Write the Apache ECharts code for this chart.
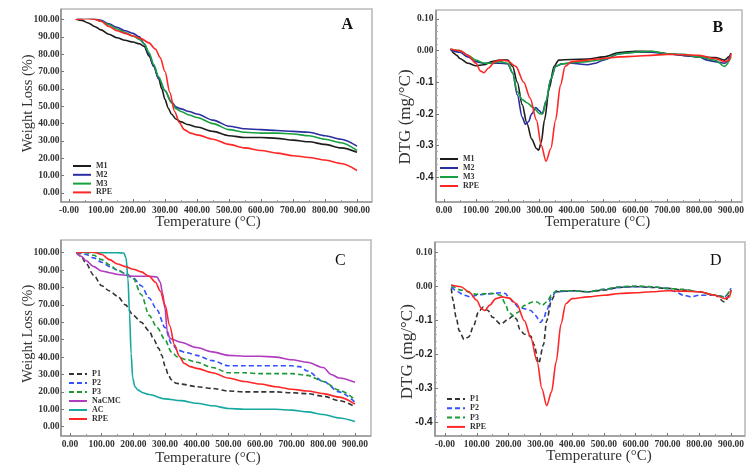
<!DOCTYPE html>
<html><head><meta charset="utf-8">
<script src="https://cdn.jsdelivr.net/npm/echarts/dist/echarts.min.js"></script>
<style>html,body{margin:0;padding:0;background:#fff}#c{width:753px;height:473px}</style>
</head><body><div id="c"></div>
<script>
// ---------- Panel A: TGA (weight loss %) ----------
var tA_M1 = [25,40,60,80,100,125,150,175,200,220,235,250,265,280,290,300,310,320,335,350,370,400,450,500,550,600,650,700,750,800,850,900];
var wA_M1 = [100,99.5,98,96,94,91.5,89.5,88,87,86,84.5,79,73,66,60,54,49,45.5,42.5,41,39.5,38,35.5,33,32,32,31.5,30.5,29.5,28,26,23.5];
var tA_M2 = [25,50,75,100,125,150,175,200,220,235,250,265,280,300,320,335,350,375,400,450,500,550,600,650,700,750,800,850,900];
var wA_M2 = [100.5,101,100.5,99.5,97.5,95.5,93.5,92,90,86,80,73,66,59,52.5,49.5,48.5,47,45.5,42,38.5,37,36.5,36,35.5,35,33,31,27];
var tA_M3 = [25,50,75,100,125,150,175,200,220,235,250,265,280,300,320,335,350,375,400,450,500,550,600,650,700,750,800,850,900];
var wA_M3 = [100.5,101,100.5,99,97,94.5,92.5,90.5,88.5,86,81,74,67,59,52,48.5,47,45,43.5,40,36.5,35,34.5,34.5,34,33,31,29,24.5];
var tRPE = [20,50,75,100,125,150,175,200,225,250,270,285,300,315,330,345,360,380,400,450,500,550,600,650,700,750,800,850,900];
var wRPE = [100,100.5,100.3,99,96,93.5,92,90.5,89,86.5,83,78,70,58,47,40.5,36.5,34.5,33.5,31,28,26,24.5,23,21.5,20.5,19,17,13];

// ---------- Panel B: DTG (mg/°C) ----------
var tB_M1 = [25,30,40,50,75,100,125,150,175,200,215,230,245,260,275,290,297,305,315,330,345,360,400,450,500,550,600,650,700,750,800,850,880,893,900];
var dB_M1 = [0,-0.008,-0.015,-0.025,-0.04,-0.048,-0.045,-0.035,-0.03,-0.03,-0.05,-0.1,-0.17,-0.23,-0.28,-0.31,-0.315,-0.29,-0.22,-0.12,-0.05,-0.03,-0.028,-0.027,-0.02,-0.006,-0.002,-0.003,-0.01,-0.015,-0.02,-0.022,-0.03,-0.02,-0.008];
var tB_M2 = [20,50,75,100,125,150,175,200,215,230,245,255,265,275,288,298,308,320,335,350,370,400,450,475,500,550,600,650,700,750,800,825,850,880,900];
var dB_M2 = [0.003,-0.005,-0.02,-0.035,-0.04,-0.04,-0.04,-0.042,-0.07,-0.14,-0.21,-0.233,-0.225,-0.2,-0.18,-0.19,-0.2,-0.16,-0.09,-0.05,-0.042,-0.04,-0.045,-0.04,-0.03,-0.01,-0.005,-0.005,-0.01,-0.015,-0.02,-0.03,-0.035,-0.04,-0.015];
var tB_M3 = [20,50,75,100,125,150,175,200,215,230,245,260,280,300,310,320,335,350,370,400,450,500,550,600,650,700,750,800,850,880,900];
var dB_M3 = [0.005,0,-0.015,-0.03,-0.04,-0.04,-0.035,-0.04,-0.07,-0.13,-0.155,-0.165,-0.18,-0.2,-0.2,-0.16,-0.09,-0.05,-0.042,-0.038,-0.035,-0.028,-0.01,-0.005,-0.002,-0.01,-0.012,-0.02,-0.03,-0.05,-0.02];
var tRPEd = [20,50,75,100,115,125,140,160,180,200,225,250,270,290,305,320,335,350,365,380,400,450,500,550,600,650,700,750,800,850,880,895,900];
var dRPEd = [0.005,0,-0.015,-0.04,-0.065,-0.07,-0.055,-0.035,-0.03,-0.033,-0.05,-0.1,-0.15,-0.22,-0.3,-0.35,-0.31,-0.22,-0.11,-0.05,-0.035,-0.03,-0.025,-0.02,-0.018,-0.015,-0.012,-0.013,-0.015,-0.025,-0.035,-0.03,-0.01];

// ---------- Panel C: TGA ----------
var tC_P1 = [20,35,50,75,100,125,150,175,200,225,250,265,280,290,300,310,320,335,350,400,450,500,550,600,650,700,750,800,850,900];
var wC_P1 = [100,98,94,87,81,78,75,70,64,60,55,50,45,41,35,30,27,25,24.5,23,22,20.5,20,20,20,19.5,19,17.5,15,11.5];
var tC_P2 = [20,50,75,100,125,150,175,200,225,250,275,300,320,340,370,400,450,500,550,600,650,700,725,750,800,850,900];
var wC_P2 = [100,99,97,94.5,92,90,88,85.5,81,74,67,57,48,44,42.5,41,38,35,35,35,35,35,34.5,32,26,20,14];
var tC_P3 = [20,50,75,100,125,150,175,200,225,250,275,300,320,340,370,400,450,500,550,600,650,700,750,800,850,900];
var wC_P3 = [100,100,98.5,96,93,90,88,85,76,64,57,50,43,40,38.5,37,34,31,31,30.5,30.5,30.5,29.5,26,21,15.5];
var tC_Na = [20,35,50,75,100,125,150,200,250,275,285,292,300,307,315,325,350,400,450,500,550,600,650,700,750,800,825,850,900];
var wC_Na = [100,98,95.5,92,89.5,88.5,87.5,86.5,86.5,86,83,77,68,55,51,50,48.5,45.5,43,41,40.5,40.5,40,38.5,37,34,30,28,25.5];
var tC_AC = [20,50,100,150,170,177,183,188,193,198,205,215,230,250,300,350,400,450,500,550,600,650,700,750,800,850,900];
var wC_AC = [100,100.3,100,100,99.8,97,85,65,42,28,23,21,19.5,18.5,16,15,13.5,12,10.5,10,10,10,9.5,8.5,7,5,3];

// ---------- Panel D: DTG ----------
var tD_P1 = [20,25,35,45,60,75,90,105,120,135,150,175,200,215,225,235,250,270,280,295,310,320,335,350,400,450,500,550,600,650,700,750,800,850,880,895,900];
var dD_P1 = [-0.005,-0.04,-0.09,-0.13,-0.155,-0.148,-0.115,-0.075,-0.06,-0.07,-0.09,-0.11,-0.095,-0.085,-0.095,-0.125,-0.14,-0.145,-0.17,-0.225,-0.17,-0.1,-0.04,-0.015,-0.012,-0.015,-0.01,-0.002,0,-0.002,-0.005,-0.01,-0.015,-0.025,-0.045,-0.025,-0.01];
var tD_P2 = [20,40,60,80,100,125,150,175,190,200,215,230,250,270,285,300,310,320,335,350,400,450,500,550,600,650,700,725,750,775,800,850,880,900];
var dD_P2 = [0,-0.015,-0.025,-0.03,-0.025,-0.022,-0.02,-0.018,-0.02,-0.03,-0.045,-0.06,-0.065,-0.07,-0.085,-0.105,-0.095,-0.07,-0.03,-0.015,-0.012,-0.015,-0.008,-0.002,0,0,-0.005,-0.015,-0.025,-0.03,-0.025,-0.025,-0.03,-0.005];
var tD_P3 = [20,50,100,150,175,190,200,215,230,250,275,290,305,320,335,350,400,450,500,550,600,650,700,750,800,850,880,900];
var dD_P3 = [0.005,-0.01,-0.022,-0.02,-0.025,-0.05,-0.075,-0.085,-0.075,-0.055,-0.045,-0.045,-0.055,-0.045,-0.025,-0.012,-0.012,-0.015,-0.008,0,0.002,0,-0.005,-0.008,-0.015,-0.025,-0.03,-0.005];

// ---------- labels ----------
var xTitle = 'Temperature (°C)';
var yTitleTGA = 'Weight Loss (%)';
var yTitleDTG = 'DTG (mg/°C)';
var panelLetters = ['A','B','C','D'];
var legendA = ['M1','M2','M3','RPE'];
var legendC = ['P1','P2','P3','NaCMC','AC','RPE'];
var legendD = ['P1','P2','P3','RPE'];

var SERIF = '"Liberation Serif","Times New Roman",serif';
function pairs(t, v) { return t.map(function (x, i) { return [x, v[i]]; }); }

var grids = [
  {left: 69, top: 19.5, width: 288, height: 173.5},
  {left: 444, top: 19, width: 287, height: 158},
  {left: 70, top: 252.7, width: 285, height: 174},
  {left: 445, top: 252.7, width: 286, height: 170}
];
var boxes = [[61, 9, 311, 193], [436, 10, 306, 192], [61, 240, 310, 196], [435, 242, 310, 194]];

function xAx(gi, offset, zeroLabel, gap, pad) {
  return {
    type: 'value', gridIndex: gi, min: 0, max: 900, interval: 100, offset: offset,
    axisLine: {show: false, onZero: false},
    axisTick: {show: true, inside: true, length: 3, lineStyle: {color: '#777'}},
    minorTick: {show: true, splitNumber: 2, length: 2, lineStyle: {color: '#999'}},
    splitLine: {show: false},
    axisLabel: {margin: 4, fontFamily: SERIF, fontWeight: 'bold', fontSize: 9.5, color: '#333',
      showMinLabel: true, showMaxLabel: true,
      formatter: function (v) { return v === 0 ? zeroLabel : v.toFixed(2); }},
    name: xTitle, nameLocation: 'middle', nameGap: gap, nameMoveOverlap: false,
    nameTextStyle: {fontFamily: SERIF, fontSize: 15, color: '#333', padding: pad}
  };
}
function yTGA(gi, offset, gap, pad) {
  return {
    type: 'value', gridIndex: gi, min: 0, max: 100, interval: 10, offset: offset,
    axisLine: {show: false, onZero: false},
    axisTick: {show: true, inside: true, length: 3, lineStyle: {color: '#777'}},
    splitLine: {show: false},
    axisLabel: {margin: 1.5, fontFamily: SERIF, fontWeight: 'bold', fontSize: 9.5, color: '#333',
      formatter: function (v) { return v.toFixed(2); }},
    name: yTitleTGA, nameLocation: 'middle', nameGap: gap, nameMoveOverlap: false,
    nameTextStyle: {fontFamily: SERIF, fontSize: 14.5, color: '#333', padding: pad}
  };
}
function yDTG(gi, offset, gap, pad) {
  return {
    type: 'value', gridIndex: gi, min: -0.4, max: 0.1, interval: 0.1, offset: offset,
    axisLine: {show: false, onZero: false},
    axisTick: {show: true, inside: true, length: 3, lineStyle: {color: '#777'}},
    minorTick: {show: true, splitNumber: 5, length: 2, lineStyle: {color: '#aaa'}},
    splitLine: {show: false},
    axisLabel: {margin: 2.5, fontFamily: SERIF, fontWeight: 'bold', fontSize: 9.5, color: '#333',
      rich: {s: {fontFamily: '"Liberation Sans",Arial,sans-serif', fontWeight: 'bold', fontSize: 10, color: '#222'}},
      formatter: function (v) {
        var r = Math.round(v * 10) / 10;
        if (r >= 0) return r.toFixed(2);
        return '{s|' + r.toFixed(1) + '}';
      }},
    name: yTitleDTG, nameLocation: 'middle', nameGap: gap, nameMoveOverlap: false,
    nameTextStyle: {fontFamily: SERIF, fontSize: 17, color: '#333', padding: pad}
  };
}

function ser(name, gi, t, v, color, dashed) {
  return {
    name: name, type: 'line', xAxisIndex: gi, yAxisIndex: gi,
    data: pairs(t, v), symbol: 'none', showSymbol: false,
    smooth: 0.3, smoothMonotone: 'x',
    lineStyle: {width: 1.6, color: color, type: dashed ? [5, 3] : 'solid'},
    itemStyle: {color: color}
  };
}

var C = {M1: '#1c1c1c', M2: '#2b2ea0', M3: '#18a040', RPE: '#ff2626',
         P1: '#333333', P2: '#3352ff', P3: '#1a9a35', Na: '#b03cc0', AC: '#15a8a0'};

function legend(names, left, top, gap) {
  return {
    data: names, orient: 'vertical', left: left, top: top, padding: 0,
    itemWidth: 18, itemHeight: 8, itemGap: gap,
    itemStyle: {opacity: 0, borderWidth: 0},
    textStyle: {fontFamily: SERIF, fontWeight: 'bold', fontSize: 8, color: '#333', lineHeight: 8}
  };
}

var graphic = [];
boxes.forEach(function (b) {
  graphic.push({type: 'rect', shape: {x: b[0], y: b[1], width: b[2], height: b[3]},
    style: {fill: 'none', stroke: '#bbbbbb', lineWidth: 1.6}, silent: true});
  graphic.push({type: 'polyline', shape: {points: [[b[0], b[1]], [b[0], b[1] + b[3]], [b[0] + b[2], b[1] + b[3]]]},
    style: {fill: 'none', stroke: '#808080', lineWidth: 1.2}, silent: true});
});

var titleStyle = function (bold) { return {fontFamily: SERIF, fontSize: 16, fontWeight: bold ? 'bold' : 'normal', color: '#111'}; };

var option = {
  animation: false,
  backgroundColor: '#fff',
  title: [
    {text: panelLetters[0], left: 341.5, top: 17, padding: 0, textStyle: titleStyle(true)},
    {text: panelLetters[1], left: 712.5, top: 20, padding: 0, textStyle: titleStyle(true)},
    {text: panelLetters[2], left: 335, top: 253, padding: 0, textStyle: titleStyle(false)},
    {text: panelLetters[3], left: 710, top: 253, padding: 0, textStyle: titleStyle(false)}
  ],
  grid: grids,
  xAxis: [
    xAx(0, 9, '-0.00', 12.5, [0, 10, 0, 0]),
    xAx(1, 25, '0.00', 12.5, [0, 0, 0, 20]),
    xAx(2, 9.3, '0.00', 14.5, [0, 9, 0, 0]),
    xAx(3, 13.3, '-0.00', 12.5, [0, 0, 0, 22])
  ],
  yAxis: [
    yTGA(0, 8, 25, [0, 0, 0, 6]),
    yDTG(1, 8, 22, [0, 38, 0, 0]),
    yTGA(2, 9, 25, [0, 0, 0, 12]),
    yDTG(3, 10, 19, [0, 28, 0, 0])
  ],
  legend: [
    legend(legendA, 72, 162, 0.8),
    legend(legendA, 439, 155, 1),
    legend(legendC, 68, 370, 1),
    legend(legendD, 446, 395, 1.3)
  ],
  graphic: graphic,
  series: [
    ser('M1', 0, tA_M1, wA_M1, C.M1),
    ser('M2', 0, tA_M2, wA_M2, C.M2),
    ser('M3', 0, tA_M3, wA_M3, C.M3),
    ser('RPE', 0, tRPE, wRPE, C.RPE),
    ser('M1', 1, tB_M1, dB_M1, C.M1),
    ser('M2', 1, tB_M2, dB_M2, C.M2),
    ser('M3', 1, tB_M3, dB_M3, C.M3),
    ser('RPE', 1, tRPEd, dRPEd, C.RPE),
    ser('P1', 2, tC_P1, wC_P1, C.P1, true),
    ser('P2', 2, tC_P2, wC_P2, C.P2, true),
    ser('P3', 2, tC_P3, wC_P3, C.P3, true),
    ser('NaCMC', 2, tC_Na, wC_Na, C.Na),
    ser('AC', 2, tC_AC, wC_AC, C.AC),
    ser('RPE', 2, tRPE, wRPE, C.RPE),
    ser('P1', 3, tD_P1, dD_P1, C.P1, true),
    ser('P2', 3, tD_P2, dD_P2, C.P2, true),
    ser('P3', 3, tD_P3, dD_P3, C.P3, true),
    ser('RPE', 3, tRPEd, dRPEd, C.RPE)
  ]
};
var chart = echarts.init(document.getElementById('c'));
chart.setOption(option);
</script>
</body></html>
